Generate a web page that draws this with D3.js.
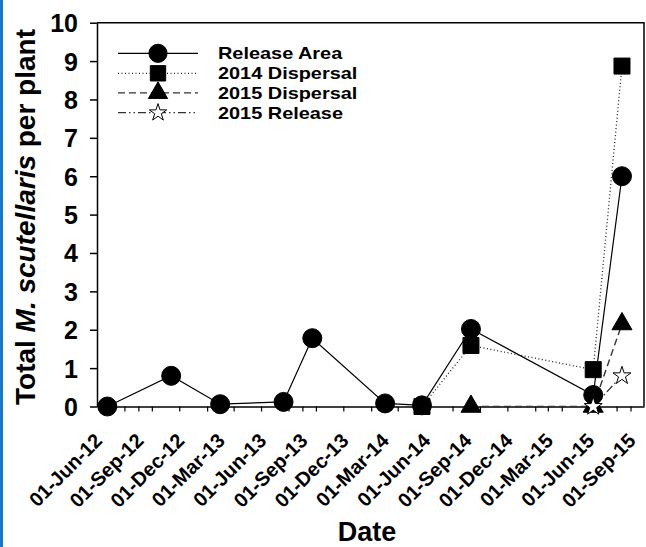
<!DOCTYPE html>
<html>
<head>
<meta charset="utf-8">
<script src="https://cdn.jsdelivr.net/npm/d3@7"></script>
<style>
  html, body { margin: 0; padding: 0; background: #fff; }
  svg { display: block; }
  text { font-family: "Liberation Sans", Arial, sans-serif; font-weight: bold; fill: #000; }
</style>
</head>
<body>
<svg id="chart" width="646" height="547"></svg>
<script>
// ---- data ----
const releaseAreaDates = ["2012-06-24","2012-11-13","2013-03-02","2013-07-21","2013-09-23","2014-03-04","2014-05-25","2014-09-11","2015-06-10","2015-08-13"];
const releaseAreaValues = [0, 0.8, 0.06, 0.12, 1.78, 0.08, 0.03, 2.02, 0.3, 6.0];

const dispersal2014Dates = ["2014-05-25","2014-09-11","2015-06-10","2015-08-13"];
const dispersal2014Values = [0, 1.59, 0.96, 8.87];

const dispersal2015Dates = ["2014-09-11","2015-06-10","2015-08-13"];
const dispersal2015Values = [0, 0, 2.15];

const release2015Dates = ["2015-06-10","2015-08-13"];
const release2015Values = [0, 0.8];

const seriesNames = ["Release Area", "2014 Dispersal", "2015 Dispersal", "2015 Release"];

const xTickDates = ["2012-08-01","2012-09-01","2012-10-01","2012-12-01","2013-02-01","2013-04-01","2013-06-01","2013-08-01","2013-09-01","2013-10-01","2013-12-01","2014-02-01","2014-04-01","2014-06-01","2014-08-01","2014-10-01","2014-12-01","2015-02-01","2015-03-01","2015-04-01","2015-06-01","2015-08-01","2015-09-01"];
const xLabelDates = ["2012-06-01","2012-09-01","2012-12-01","2013-03-01","2013-06-01","2013-09-01","2013-12-01","2014-03-01","2014-06-01","2014-09-01","2014-12-01","2015-03-01","2015-06-01","2015-09-01"];
const yTickValues = [0,1,2,3,4,5,6,7,8,9,10];

// ---- setup ----
const parse = d3.timeParse("%Y-%m-%d");
const fmt = d3.timeFormat("%d-%b-%y");
const svg = d3.select("#chart");

const x = d3.scaleTime().domain([parse("2012-06-01"), parse("2015-10-01")]).range([97, 644]);
const y = d3.scaleLinear().domain([0, 10]).range([406.5, 22.7]);

// left blue bar
svg.append("rect").attr("x", 0).attr("y", 0).attr("width", 3).attr("height", 547).attr("fill", "#1678d2");

// frame (top & right)
svg.append("path")
  .attr("d", `M${x.range()[0]},${y(10)}H${x.range()[1]}V${y(0)}`)
  .attr("fill", "none").attr("stroke", "#000").attr("stroke-width", 1.5);

// y axis
const yAxis = svg.append("g").attr("transform", `translate(${x.range()[0]},0)`)
  .call(d3.axisLeft(y).tickValues(yTickValues).tickSize(7).tickSizeOuter(0).tickPadding(12).tickFormat(d3.format("d")));
yAxis.select(".domain").attr("stroke-width", 1.5);
yAxis.selectAll(".tick line").attr("stroke-width", 1.5);
yAxis.selectAll(".tick text").style("font-size", "25px").style("font-family", "'Liberation Sans', Arial, sans-serif").style("font-weight", "bold").attr("dy", "0.36em");

// x axis
const xAxis = svg.append("g").attr("transform", `translate(0,${y(0)})`)
  .call(d3.axisBottom(x).tickValues(xTickDates.map(parse)).tickSize(5).tickSizeOuter(0).tickFormat(""));
xAxis.select(".domain").attr("stroke-width", 1.5);
xAxis.selectAll(".tick line").attr("stroke-width", 1.2);

// x labels
svg.append("g").selectAll("text").data(xLabelDates.map(parse)).join("text")
  .attr("transform", d => `translate(${x(d) + 1.5},437) rotate(-45)`)
  .attr("text-anchor", "end").attr("dy", "0.35em")
  .style("font-size", "20px")
  .text(d => fmt(d));

// axis titles
svg.append("text").attr("x", 367).attr("y", 541).attr("text-anchor", "middle").style("font-size", "27px").text("Date");
const yt = svg.append("text").attr("transform", "translate(35,217) rotate(-90)").attr("text-anchor", "middle").style("font-size", "28px");
yt.append("tspan").text("Total ");
yt.append("tspan").style("font-style", "italic").text("M. scutellaris");
yt.append("tspan").text(" per plant");

// series
const styles = [
  { dash: null, color: "#000", width: 1.2, symbol: d3.symbolCircle, size: 283, fill: "#000" },
  { dash: "1,2.5", color: "#222", width: 1.3, symbol: d3.symbolSquare, size: 256, fill: "#000" },
  { dash: "7,4", color: "#333", width: 1.4, symbol: d3.symbolTriangle, size: 173, fill: "#000" },
  { dash: "8,3,1.5,3,1.5,3", color: "#333", width: 1.3, symbol: d3.symbolStar, size: 101, fill: "#fff" }
];
const series = [
  { dates: releaseAreaDates, values: releaseAreaValues },
  { dates: dispersal2014Dates, values: dispersal2014Values },
  { dates: dispersal2015Dates, values: dispersal2015Values },
  { dates: release2015Dates, values: release2015Values }
].map((s, i) => ({ ...s, style: styles[i], pts: s.dates.map((d, j) => ({ date: parse(d), value: s.values[j] })) }));

const line = d3.line().x(d => x(d.date)).y(d => y(d.value));
series.forEach(s => {
  svg.append("path").datum(s.pts).attr("d", line)
    .attr("fill", "none").attr("stroke", s.style.color).attr("stroke-width", s.style.width)
    .attr("stroke-dasharray", s.style.dash);
});
series.forEach(s => {
  svg.append("g").selectAll("path").data(s.pts).join("path")
    .attr("transform", d => `translate(${x(d.date)},${y(d.value)})`)
    .attr("d", d3.symbol().type(s.style.symbol).size(s.style.size))
    .attr("fill", s.style.fill).attr("stroke", "#000").attr("stroke-width", 1);
});

// legend
const legendRows = [53.3, 73.3, 92.9, 112.7];
const leg = svg.append("g");
series.forEach((s, i) => {
  const g = leg.append("g").attr("transform", `translate(0,${legendRows[i]})`);
  g.append("line").attr("x1", 118).attr("x2", 198).attr("y1", 0).attr("y2", 0)
    .attr("stroke", s.style.color).attr("stroke-width", s.style.width).attr("stroke-dasharray", s.style.dash);
  g.append("path").attr("transform", "translate(158,0)")
    .attr("d", d3.symbol().type(s.style.symbol).size(s.style.size * 0.92))
    .attr("fill", s.style.fill).attr("stroke", "#000").attr("stroke-width", 1);
  g.append("text").attr("transform", "translate(218,0) scale(1.17,1)").attr("dy", "0.36em").style("font-size", "17px").text(seriesNames[i]);
});
</script>
</body>
</html>
